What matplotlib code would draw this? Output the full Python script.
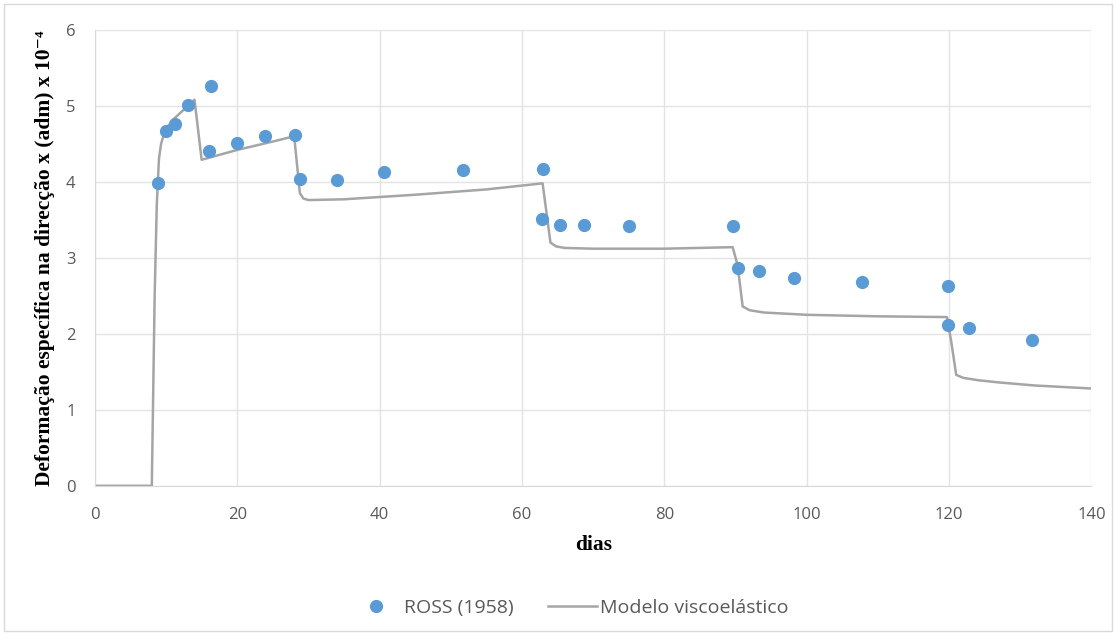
import matplotlib
matplotlib.use("Agg")
import matplotlib.pyplot as plt
from matplotlib.patches import Rectangle

# ROSS (1958) experimental points
ross_x = [8.8, 10.0, 11.2, 13.1, 16.3, 16.0, 19.9, 23.9, 28.1, 28.8, 34.0, 40.6,
          51.7, 62.9, 62.8, 65.4, 68.7, 75.1, 89.7, 90.3, 93.3, 98.2, 107.7,
          119.8, 119.8, 122.8, 131.7]
ross_y = [3.98, 4.67, 4.76, 5.01, 5.26, 4.41, 4.51, 4.60, 4.62, 4.04, 4.03, 4.13,
          4.16, 4.17, 3.51, 3.43, 3.43, 3.42, 3.42, 2.86, 2.82, 2.74, 2.68,
          2.63, 2.11, 2.08, 1.92]

# Viscoelastic model curve
model_x = [0, 8.0, 8.4, 8.7, 9.0, 9.3, 9.7, 10.2, 11.0, 12.5, 14.0,
           15.0, 20.0, 25.0, 28.0,
           28.8, 29.3, 30.0, 35.0, 45.0, 55.0, 62.9,
           64.0, 64.8, 66.0, 70.0, 80.0, 89.6,
           90.3, 91.0, 92.0, 94.0, 100.0, 110.0, 119.7,
           120.3, 121.0, 122.0, 124.0, 127.0, 132.0, 140.0]
model_y = [0, 0, 2.5, 3.7, 4.3, 4.5, 4.62, 4.72, 4.82, 4.95, 5.08,
           4.29, 4.42, 4.53, 4.60,
           3.85, 3.78, 3.76, 3.77, 3.83, 3.90, 3.98,
           3.20, 3.15, 3.13, 3.12, 3.12, 3.14,
           2.90, 2.36, 2.31, 2.28, 2.25, 2.23, 2.22,
           1.90, 1.46, 1.42, 1.39, 1.36, 1.32, 1.28]

x_ticks = [0, 20, 40, 60, 80, 100, 120, 140]
y_ticks = [0, 1, 2, 3, 4, 5, 6]

fig = plt.figure(figsize=(11.16, 6.35), dpi=100)
fig.patches.append(Rectangle((0.004, 0.006), 0.992, 0.988, transform=fig.transFigure,
                             fill=False, edgecolor="#D9D9D9", linewidth=1))
ax = fig.add_axes([0.085, 0.235, 0.893, 0.718])

ax.plot(model_x, model_y, color="#A5A5A5", linewidth=1.8, label="Modelo viscoelástico", zorder=2)
ax.plot(ross_x, ross_y, linestyle="none", marker="o", markersize=8.5,
        color="#5B9BD5", label="ROSS (1958)", zorder=3)

ax.set_xlim(0, 140)
ax.set_ylim(0, 6)
ax.set_xticks(x_ticks)
ax.set_yticks(y_ticks)
ax.grid(True, color="#E3E3E3", linewidth=1)
ax.set_axisbelow(True)
for s in ["top", "right"]:
    ax.spines[s].set_visible(False)
for s in ["left", "bottom"]:
    ax.spines[s].set_color("#D9D9D9")
ax.tick_params(length=0, labelsize=12, labelcolor="#595959")
ax.tick_params(axis="x", pad=15)
ax.tick_params(axis="y", pad=14)
for lab in ax.get_xticklabels() + ax.get_yticklabels():
    lab.set_family(["Open Sans", "DejaVu Sans"])

ax.set_xlabel("dias", family=["Liberation Serif", "DejaVu Serif"], fontweight="bold",
              fontsize=15.5, labelpad=9)
ax.set_ylabel("Deformação específica na direcção x (adm) x 10⁻⁴",
              family=["Liberation Serif", "DejaVu Serif"], fontweight="bold",
              fontsize=15.5, labelpad=8)

handles, labels = ax.get_legend_handles_labels()
order = [1, 0]
leg = fig.legend([handles[i] for i in order], [labels[i] for i in order],
                 loc="center", bbox_to_anchor=(0.511, 0.0425), ncol=2, frameon=False,
                 prop={"family": ["Open Sans", "DejaVu Sans"], "size": 14},
                 handlelength=2.5, columnspacing=1.8, handletextpad=0.15)
for t in leg.get_texts():
    t.set_color("#595959")

fig.savefig("out.png", dpi=100)
